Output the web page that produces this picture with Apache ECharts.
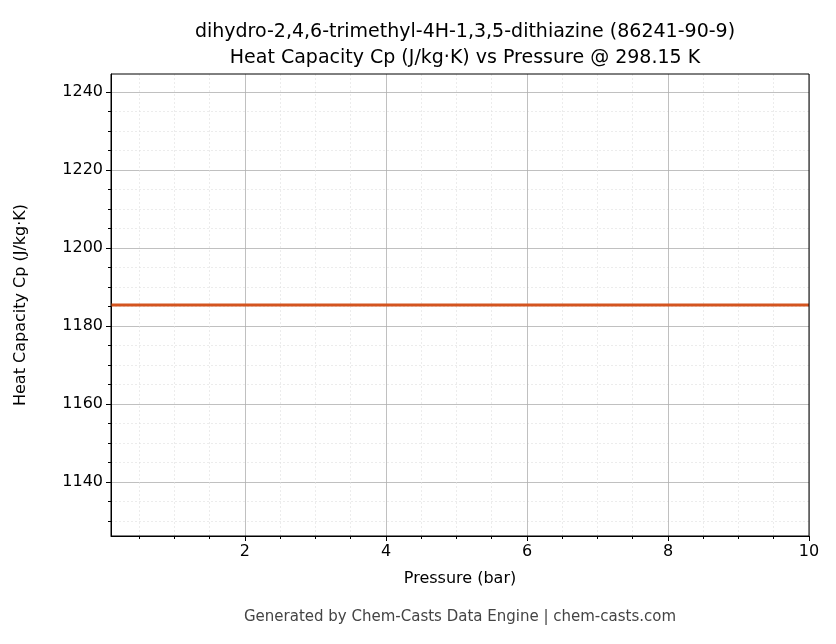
<!DOCTYPE html>
<html><head><meta charset="utf-8">
<script src="https://cdn.jsdelivr.net/npm/echarts@6/dist/echarts.min.js"></script>
<style>html,body{margin:0;padding:0;background:#fff}#c{width:836px;height:644px}</style>
</head><body><div id="c"></div>
<script>
const pressure = [0.1, 1, 2, 3, 4, 5, 6, 7, 8, 9, 10];
const cp = [1185.4, 1185.4, 1185.4, 1185.4, 1185.4, 1185.4, 1185.4, 1185.4, 1185.4, 1185.4, 1185.4];
const xTicks = [2, 4, 6, 8, 10];
const yTicks = [1140, 1160, 1180, 1200, 1220, 1240];
const xMinor = [0.5,1,1.5,2.5,3,3.5,4.5,5,5.5,6.5,7,7.5,8.5,9,9.5];
const yMinor = [1130,1135,1145,1150,1155,1165,1170,1175,1185,1190,1195,1205,1210,1215,1225,1230,1235,1245];
const font = 'DejaVu Sans';
const chart = echarts.init(document.getElementById('c'));
const common = {min:0.1, max:10};
const fmt = v => String(v);
chart.setOption({
  animation:false,
  textStyle:{fontFamily:font},
  title:{text:'dihydro-2,4,6-trimethyl-4H-1,3,5-dithiazine (86241-90-9)\nHeat Capacity Cp (J/kg·K) vs Pressure @ 298.15 K',
    left:460, top:14, textAlign:'center',
    textStyle:{fontFamily:font,fontSize:19,fontWeight:'normal',color:'#000',lineHeight:26}},
  grid:{left:111,right:27,top:74,bottom:108},
  xAxis:[{type:'value',...common,name:'Pressure (bar)',nameLocation:'middle',nameGap:35,
    nameTextStyle:{fontSize:16,color:'#000'},
    axisLine:{show:true,onZero:false,lineStyle:{color:'#000'}},
    axisTick:{show:true,customValues:xTicks,length:5,lineStyle:{color:'#000'}},
    axisLabel:{customValues:xTicks,formatter:fmt,fontSize:16,color:'#000',margin:8},
    splitLine:{show:true,lineStyle:{color:'#b0b0b0',width:0.8}}},
   {type:'value',...common,position:'bottom',axisLine:{show:false},
    axisTick:{show:true,customValues:xMinor,length:3,lineStyle:{color:'#000'}},
    axisLabel:{show:false,customValues:xMinor},
    splitLine:{show:true,lineStyle:{color:'#e0e0e0',width:0.6,type:[2,2]}}}],
  yAxis:[{type:'value',min:1126.2,max:1244.6,name:'Heat Capacity Cp (J/kg·K)',nameLocation:'middle',nameGap:82,
    nameTextStyle:{fontSize:16,color:'#000'},
    axisLine:{show:true,onZero:false,lineStyle:{color:'#000'}},
    axisTick:{show:true,customValues:yTicks,length:5,lineStyle:{color:'#000'}},
    axisLabel:{customValues:yTicks,formatter:fmt,fontSize:16,color:'#000',margin:8},
    splitLine:{show:true,lineStyle:{color:'#b0b0b0',width:0.8}}},
   {type:'value',min:1126.2,max:1244.6,position:'left',axisLine:{show:false},
    axisTick:{show:true,customValues:yMinor,length:3,lineStyle:{color:'#000'}},
    axisLabel:{show:false,customValues:yMinor},
    splitLine:{show:true,lineStyle:{color:'#e0e0e0',width:0.6,type:[2,2]}}}],
  series:[{type:'line',data:pressure.map((p,i)=>[p,cp[i]]),showSymbol:false,
    lineStyle:{color:'#d4541f',width:3},z:5}],
  graphic:[{type:'text',x:460,y:610,style:{text:'Generated by Chem-Casts Data Engine | chem-casts.com',fontFamily:font,fontSize:15,fill:'#444',textAlign:'center'}},
  {type:'rect',shape:{x:111,y:74,width:698,height:462},style:{fill:'none',stroke:'#000',lineWidth:1},z:10}]
});
</script></body></html>
